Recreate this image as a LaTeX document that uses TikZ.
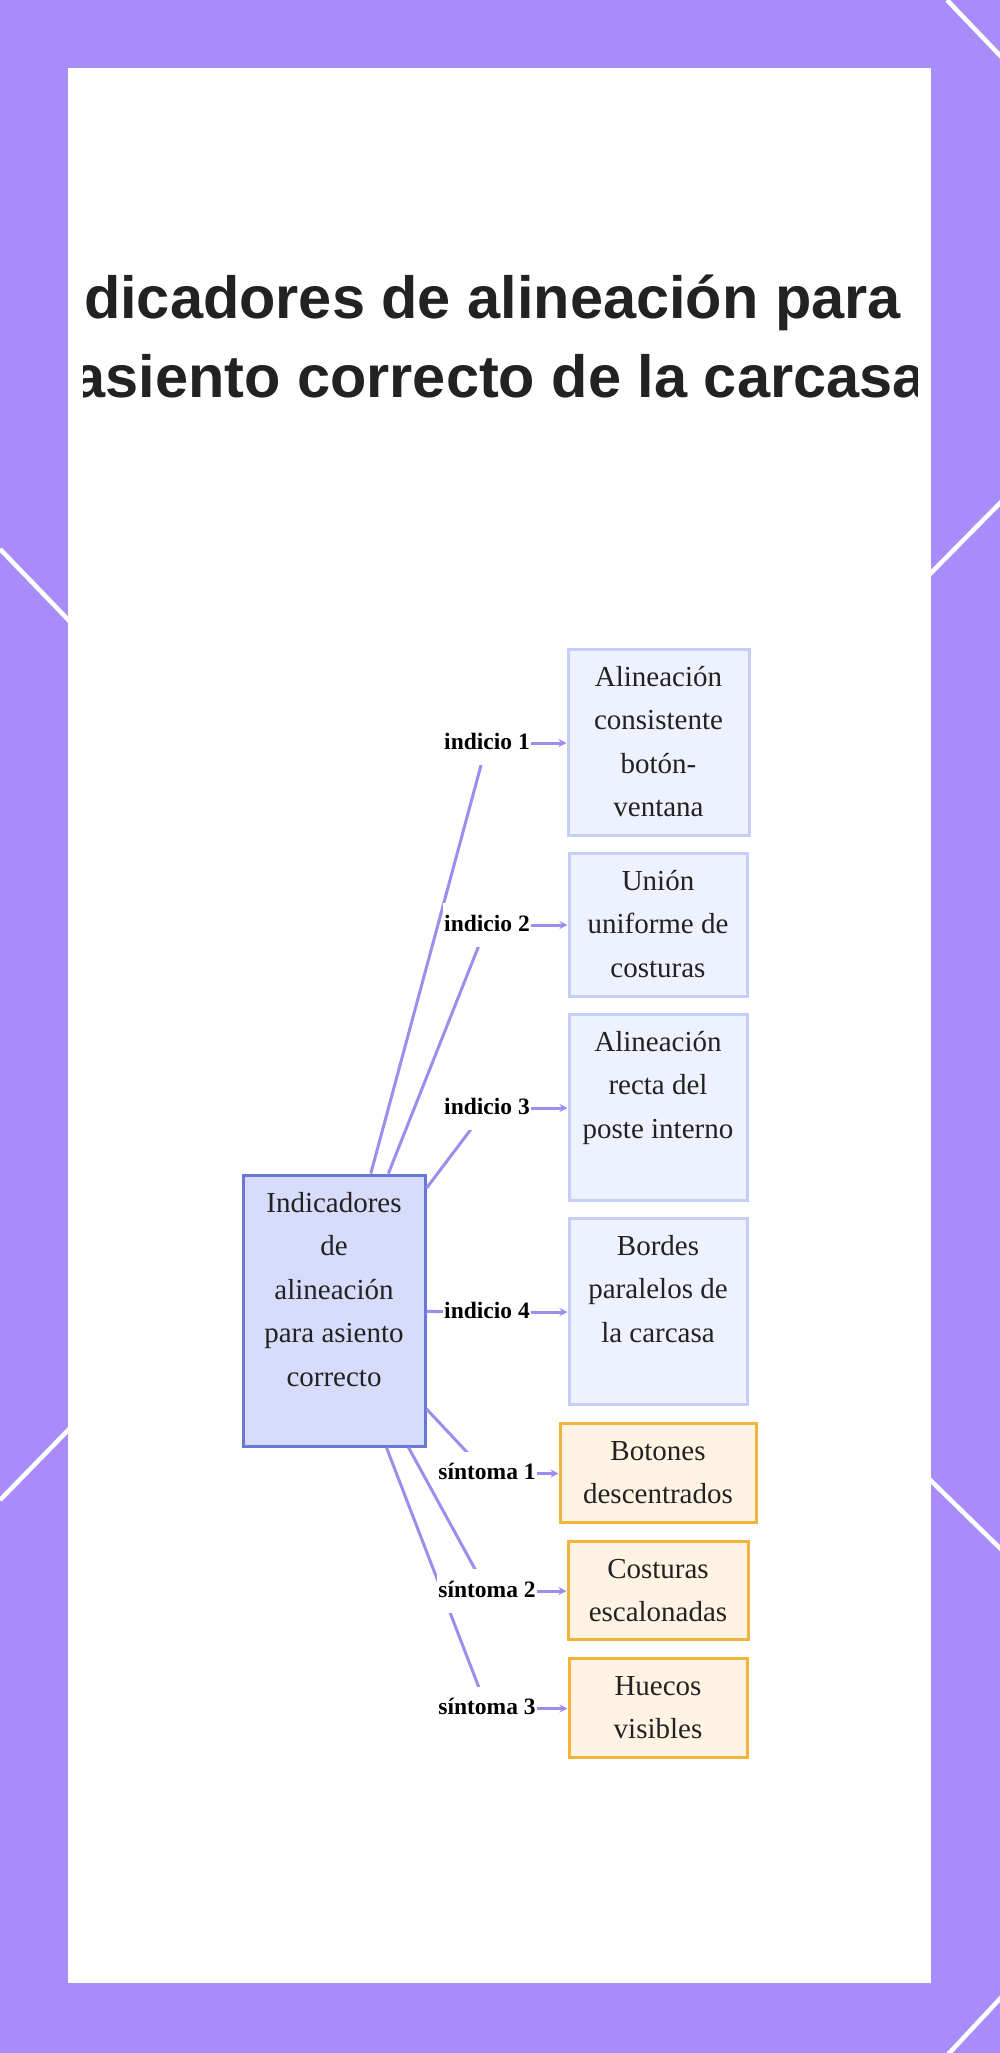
\documentclass[tikz,border=0pt]{standalone}
\usepackage{fontspec}
\setmainfont{Liberation Serif}
\newfontfamily\headfont{Liberation Sans}
\usepackage{xcolor}
\usetikzlibrary{arrows.meta}
\definecolor{frame}{RGB}{168,140,250}
\definecolor{ink}{RGB}{34,34,34}
\definecolor{hubfill}{RGB}{216,220,251}
\definecolor{hubline}{RGB}{104,120,212}
\definecolor{cluefill}{RGB}{238,241,254}
\definecolor{clueline}{RGB}{197,206,248}
\definecolor{symfill}{RGB}{255,244,227}
\definecolor{symline}{RGB}{243,180,60}
\definecolor{linkcol}{RGB}{160,140,238}

%% text of a box: fixed size, lines start at the top
\newcommand{\boxtext}[3]{\parbox[c][#2][t]{#1}{\centering\rule{0pt}{37pt}#3}}

\begin{document}
\begin{tikzpicture}[x=1pt, y=-1pt,
    hubbox/.style={draw=hubline, fill=hubfill, line width=3pt, inner sep=0pt,
        text=ink, font=\fontsize{29}{43.5}\selectfont},
    cluebox/.style={hubbox, draw=clueline, fill=cluefill},
    symbox/.style={hubbox, draw=symline, fill=symfill},
    edgelabel/.style={fill=white, inner xsep=1pt, inner ysep=11pt,
        text height=17pt, text depth=5pt, text=black,
        font=\fontsize{23.5}{28}\selectfont\bfseries},
    hublink/.style={linkcol, line width=3pt},
    cluearrow/.style={hublink, -{Stealth[length=8pt, width=8pt]}}]

    \useasboundingbox (0,0) rectangle (1000,2053);

    %% --- purple frame with white strokes ---
    \fill[frame] (0,0) rectangle (1000,2053);
    \draw[white, line width=4.5pt] (947,0) -- (1010,66);
    \draw[white, line width=4.5pt] (0,549) -- (80,632);
    \draw[white, line width=4.5pt] (1010,493) -- (920,584);
    \draw[white, line width=4.5pt] (0,1500) -- (80,1418);
    \draw[white, line width=4.5pt] (920,1470) -- (1010,1558);
    \draw[white, line width=4.5pt] (1010,1988) -- (940,2063);
    \fill[white] (68,68) rectangle (931,1983);

    %% --- title (runs past the panel, cut at both sides) ---
    \begin{scope}
        \clip (83,200) rectangle (917,460);
        \node[anchor=base, text=ink, font=\headfont\bfseries\fontsize{59.5}{70}\selectfont]
            (title1) at (466,318) {Indicadores de alineación para};
        \node[anchor=base, text=ink, font=\headfont\bfseries\fontsize{59.5}{70}\selectfont]
            (title2) at (466,397) {el asiento correcto de la carcasa};
    \end{scope}

    %% --- hub ---
    \node[hubbox] (hub) at (334,1310.5)
        {\boxtext{182pt}{271pt}{Indicadores\\de\\alineación\\para asiento\\correcto}};

    %% --- indicios ---
    \node[cluebox] (t1) at (658.5,742)
        {\boxtext{181pt}{186pt}{Alineación\\consistente\\botón-\\ventana}};
    \node[cluebox] (t2) at (658,924.5)
        {\boxtext{178pt}{143pt}{Unión\\uniforme de\\costuras}};
    \node[cluebox] (t3) at (658,1107)
        {\boxtext{178pt}{186pt}{Alineación\\recta del\\poste interno}};
    \node[cluebox] (t4) at (658,1311)
        {\boxtext{178pt}{186pt}{Bordes\\paralelos de\\la carcasa}};

    %% --- sintomas ---
    \node[symbox] (t5) at (658,1472.5)
        {\boxtext{196pt}{99pt}{Botones\\descentrados}};
    \node[symbox] (t6) at (658,1590)
        {\boxtext{180pt}{98pt}{Costuras\\escalonadas}};
    \node[symbox] (t7) at (658,1707.5)
        {\boxtext{178pt}{99pt}{Huecos\\visibles}};

    %% label points
    \coordinate (c1) at (487,743);
    \coordinate (c2) at (487,925);
    \coordinate (c3) at (487,1108);
    \coordinate (c4) at (487,1312);
    \coordinate (c5) at (487,1473.5);
    \coordinate (c6) at (487,1591);
    \coordinate (c7) at (487,1708.5);

    %% hub to labels (labels are drawn on top)
    \draw[hublink] (hub) -- (c1);
    \draw[hublink] (hub) -- (c2);
    \draw[hublink] (hub) -- (c3);
    \draw[hublink] (hub) -- (c4);
    \draw[hublink] (hub) -- (c5);
    \draw[hublink] (hub) -- (c6);
    \draw[hublink] (hub) -- (c7);

    \node[edgelabel] (l1) at (c1) {indicio 1};
    \node[edgelabel] (l2) at (c2) {indicio 2};
    \node[edgelabel] (l3) at (c3) {indicio 3};
    \node[edgelabel] (l4) at (c4) {indicio 4};
    \node[edgelabel] (l5) at (c5) {síntoma 1};
    \node[edgelabel] (l6) at (c6) {síntoma 2};
    \node[edgelabel] (l7) at (c7) {síntoma 3};

    %% labels to boxes
    \draw[cluearrow] (l1) -- (l1 -| t1.west);
    \draw[cluearrow] (l2) -- (l2 -| t2.west);
    \draw[cluearrow] (l3) -- (l3 -| t3.west);
    \draw[cluearrow] (l4) -- (l4 -| t4.west);
    \draw[cluearrow] (l5) -- (l5 -| t5.west);
    \draw[cluearrow] (l6) -- (l6 -| t6.west);
    \draw[cluearrow] (l7) -- (l7 -| t7.west);

\end{tikzpicture}
\end{document}
